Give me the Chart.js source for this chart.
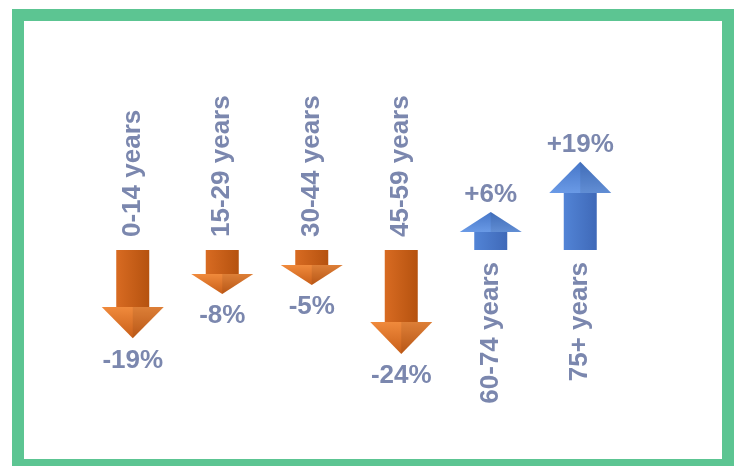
<!DOCTYPE html>
<html>
<head>
<meta charset="utf-8">
<script src="https://cdn.jsdelivr.net/npm/chart.js@4/dist/chart.umd.min.js"></script>
<style>
  html, body { margin: 0; padding: 0; background: #fff; overflow: hidden; }
  #wrap { position: relative; width: 737px; height: 466px; }
  #frame {
    position: absolute; left: 12px; top: 9px;
    width: 698px; height: 438px;
    border: 12px solid #5cc592;
    pointer-events: none;
  }
  canvas { position: absolute; left: 0; top: 0; }
</style>
</head>
<body>
<div id="wrap">
  <canvas id="arrowChart" width="737" height="466"></canvas>
  <div id="frame"></div>
</div>
<script>
const grupos = ["0-14 years", "15-29 years", "30-44 years", "45-59 years", "60-74 years", "75+ years"];
const cambio = [-19, -8, -5, -24, 6, 19];

const TEXTO = "#7b87ae";
const FUENTE = "bold 26px 'Liberation Sans', Arial, sans-serif";

// dibuja cada barra como flecha: el cuerpo sale de la barra, la punta se agrega al final
const flechas = {
  id: "flechas",
  afterDatasetsDraw(chart) {
    const ctx = chart.ctx;
    const meta = chart.getDatasetMeta(0);
    meta.data.forEach((bar, i) => {
      const v = cambio[i];
      const dir = v < 0 ? 1 : -1;
      const x = bar.x, base = bar.base, fin = bar.y;
      const mitad = bar.width / 2;
      const largo = Math.abs(fin - base);
      const alto = Math.min(32, Math.max(20, largo * 0.55));
      const ala = 31;
      const punta = fin + dir * alto;

      let c1, c2, c3, c4;
      if (v < 0) { c1 = "#d86b22"; c2 = "#b5520f"; c3 = "#f08a3c"; c4 = "#c85e18"; }
      else { c1 = "#5284d6"; c2 = "#3f69b8"; c3 = "#6a9ae6"; c4 = "#4676c8"; }

      ctx.save();
      // cuerpo
      const g = ctx.createLinearGradient(x - mitad, 0, x + mitad, 0);
      g.addColorStop(0, c1);
      g.addColorStop(1, c2);
      ctx.fillStyle = g;
      ctx.fillRect(x - mitad, Math.min(base, fin), bar.width, largo);

      // punta
      const gp = ctx.createLinearGradient(0, fin, 0, punta);
      gp.addColorStop(0, c3);
      gp.addColorStop(1, c4);
      ctx.fillStyle = gp;
      ctx.beginPath();
      ctx.moveTo(x - ala, fin);
      ctx.lineTo(x + ala, fin);
      ctx.lineTo(x, punta);
      ctx.closePath();
      ctx.fill();
      // sombra suave en el centro de la punta
      ctx.fillStyle = "rgba(0,0,0,0.08)";
      ctx.beginPath();
      ctx.moveTo(x, fin);
      ctx.lineTo(x + ala, fin);
      ctx.lineTo(x, punta);
      ctx.closePath();
      ctx.fill();

      ctx.fillStyle = TEXTO;
      ctx.font = FUENTE;

      // valor
      ctx.textAlign = "center";
      const txt = (v > 0 ? "+" : "") + v + "%";
      if (v < 0) {
        ctx.textBaseline = "top";
        ctx.fillText(txt, x, punta + 9);
      } else {
        ctx.textBaseline = "alphabetic";
        ctx.fillText(txt, x, punta - 10);
      }

      // grupo de edad, vertical
      ctx.translate(x, v < 0 ? base - 13 : base + 12);
      ctx.rotate(-Math.PI / 2);
      ctx.textBaseline = "middle";
      ctx.textAlign = v < 0 ? "left" : "right";
      ctx.fillText(grupos[i], 0, 0);
      ctx.restore();
    });
  }
};

new Chart(document.getElementById("arrowChart").getContext("2d"), {
  type: "bar",
  data: {
    labels: grupos,
    datasets: [{
      data: cambio,
      backgroundColor: "rgba(0,0,0,0)",
      barThickness: 33
    }]
  },
  options: {
    responsive: false,
    maintainAspectRatio: false,
    animation: false,
    layout: { padding: { left: 88, right: 112, top: 100, bottom: 66 } },
    plugins: {
      legend: { display: false },
      tooltip: { enabled: false }
    },
    scales: {
      x: { display: false, offset: true },
      y: { display: false, min: -50, max: 50 }
    }
  },
  plugins: [flechas]
});
</script>
</body>
</html>
